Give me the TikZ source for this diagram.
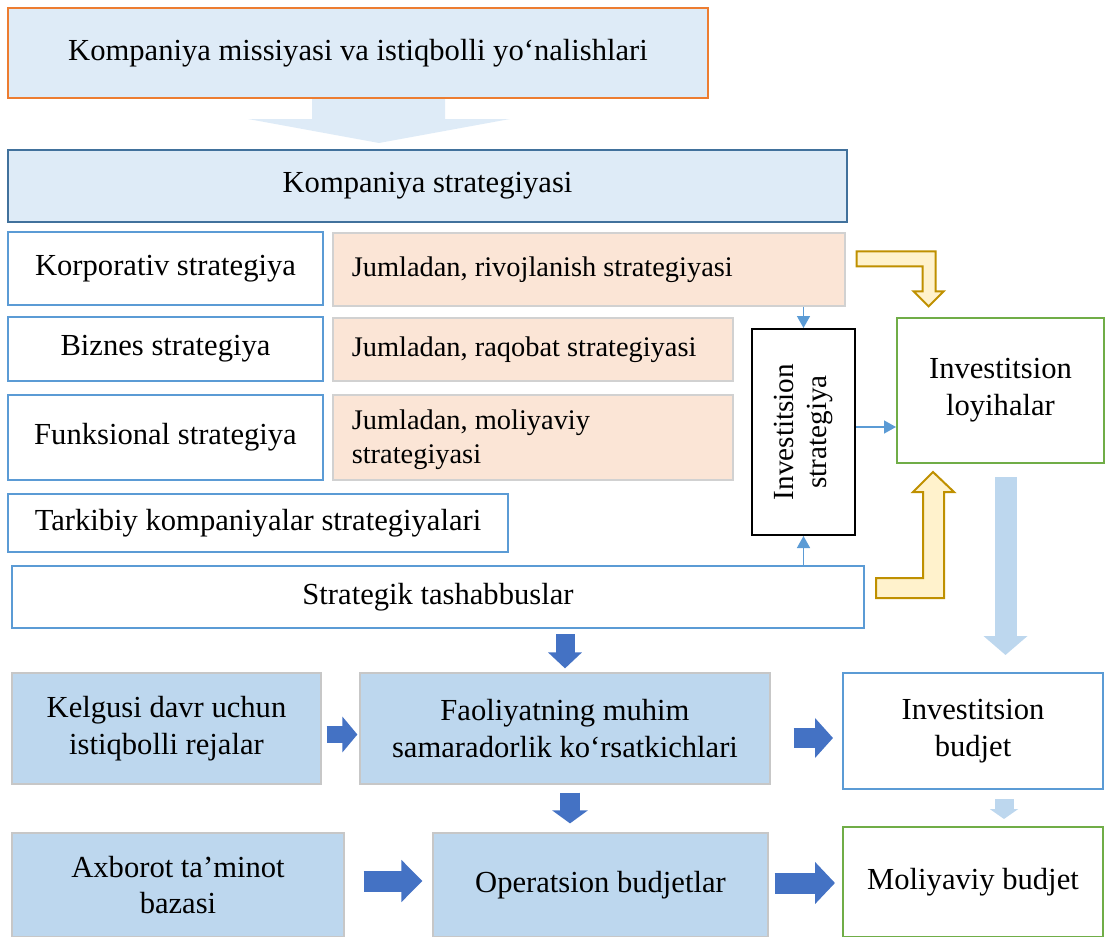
\documentclass[tikz,border=0pt]{standalone}
\usepackage{fontspec}
\setmainfont{Liberation Serif}
\usetikzlibrary{calc,arrows.meta}

\definecolor{palebl}{HTML}{DEEBF7}
\definecolor{lightbl}{HTML}{BDD7EE}
\definecolor{midbl}{HTML}{5B9BD5}
\definecolor{darkbl}{HTML}{41719C}
\definecolor{strongbl}{HTML}{4472C4}
\definecolor{orng}{HTML}{ED7D31}
\definecolor{peach}{HTML}{FBE5D6}
\definecolor{grn}{HTML}{70AD47}
\definecolor{goldfill}{HTML}{FFF2CC}
\definecolor{goldline}{HTML}{BF9000}

\tikzset{
  box/.style={inner sep=0pt, line width=1pt, fill=white, align=center},
  linebox/.style={box, draw=midbl},
  peachbox/.style={box, fill=peach, draw=black!18, line width=0.6pt},
  peachtext/.style={anchor=west, inner sep=0pt, align=left, font=\fontsize{14.2}{17}\selectfont},
  plan/.style={box, fill=lightbl, draw=black!22, line width=0.6pt},
  greenbox/.style={box, draw=grn},
  thinarr/.style={draw=midbl, line width=0.75pt, -{Triangle[width=6.5pt,length=6pt]}},
  goldarr/.style={fill=goldfill, draw=goldline, line width=1pt, line join=miter}
}

\begin{document}
\begin{tikzpicture}[x=0.5pt, y=-0.5pt, font=\fontsize{15.3}{18.4}\selectfont]
  \useasboundingbox (0,0) rectangle (1105,937);

  % top of the scheme
  \node[box, fill=palebl, draw=orng, minimum width=350pt, minimum height=45pt] (mis) at (358,53) {Kompaniya missiyasi va istiqbolli yo‘nalishlari};
  \fill[palebl] ($(mis.south)+(-46,0)$) -- ++(133,0) -- ++(0,20) -- ++(65,0) -- ++(-131,24) -- ++(-131,-24) -- ++(64,0) -- cycle;
  \node[box, fill=palebl, draw=darkbl, minimum width=419.5pt, minimum height=36pt] (kstr) at (427.5,186) {Kompaniya strategiyasi};

  % strategy levels
  \node[linebox, minimum width=157.5pt, minimum height=36.5pt] (korp) at (165.5,268.5) {Korporativ strategiya};
  \node[linebox, minimum width=157.5pt, minimum height=32pt] (biz) at (165.5,349) {Biznes strategiya};
  \node[linebox, minimum width=157.5pt, minimum height=42.5pt] (funk) at (165.5,437.5) {Funksional strategiya};
  \node[linebox, minimum width=250pt, minimum height=29pt] (tark) at (258,523) {Tarkibiy kompaniyalar strategiyalari};
  \node[linebox, minimum width=426pt, minimum height=31pt] (tash) at (438,597) {Strategik tashabbuslar};

  \node[peachbox, minimum width=256pt, minimum height=36.5pt] (jum1) at (589,269.5) {};
  \node[peachbox, minimum width=200pt, minimum height=31.5pt] (jum2) at (533,349.5) {};
  \node[peachbox, minimum width=200pt, minimum height=42.5pt] (jum3) at (533,437.5) {};
  \node[peachtext] (jum1t) at ($(jum1.west)+(19,0)$) {Jumladan, rivojlanish strategiyasi};
  \node[peachtext] (jum2t) at ($(jum2.west)+(19,0)$) {Jumladan, raqobat strategiyasi};
  \node[peachtext] (jum3t) at ($(jum3.west)+(19,2)$) {Jumladan, moliyaviy\\strategiyasi};

  % investment part
  \node[box, draw=black, minimum width=51.5pt, minimum height=103pt] (invs) at (803.5,432) {};
  \node[rotate=90, align=center, inner sep=0pt, font=\fontsize{14.6}{16.5}\selectfont] (invst) at (invs.center) {Investitsion\\strategiya};
  \node[greenbox, minimum width=103.5pt, minimum height=72.5pt] (loy) at (1000.5,390.5) {Investitsion\\loyihalar};

  \coordinate (is1) at ($(invs.east)+(0,-5)$);
  \draw[thinarr] (jum1.south -| invs.north) -- (invs.north);
  \draw[thinarr] (tash.north -| invs.south) -- (invs.south);
  \draw[thinarr] (is1) -- (is1 -| loy.west);

  \draw[goldarr] ($(jum1.north east)+(11,19)$) -- ++(79,0) -- ++(0,40) -- ++(8,0) -- ++(-15,15) -- ++(-15,-15) -- ++(9,0) -- ++(0,-25) -- ++(-66,0) -- cycle;
  \draw[goldarr] ($(tash.north east)+(11,13)$) -- ++(47,0) -- ++(0,-86) -- ++(-10,0) -- ++(20,-20) -- ++(21,20) -- ++(-10,0) -- ++(0,106) -- ++(-68,0) -- cycle;

  % plans and budgets
  \node[plan, minimum width=154.5pt, minimum height=55.5pt] (kel) at (166.5,728.5) {Kelgusi davr uchun\\istiqbolli rejalar};
  \node[plan, minimum width=205pt, minimum height=55.5pt] (faol) at (565,728.5) {Faoliyatning muhim\\samaradorlik ko‘rsatkichlari};
  \node[linebox, minimum width=130pt, minimum height=58pt] (ibud) at (973,731) {Investitsion\\budjet};
  \node[plan, minimum width=166pt, minimum height=52pt] (axb) at (178,885) {Axborot ta’minot\\bazasi};
  \node[plan, minimum width=167.5pt, minimum height=52pt] (oper) at (600.5,885) {Operatsion budjetlar};
  \node[greenbox, minimum width=130pt, minimum height=55pt] (mol) at (973,882) {Moliyaviy budjet};

  \coordinate (fs) at ($(faol.south)+(5,0)$);
  \coordinate (ke) at ($(kel.east)+(0,6)$);
  \coordinate (ae) at ($(axb.east)+(0,-4)$);
  \coordinate (fe) at ($(faol.east)+(0,9.5)$);
  \coordinate (oe) at ($(oper.east)+(0,-2)$);
  \coordinate (ls) at ($(loy.south)+(5,0)$);
  \coordinate (ibs) at ($(ibud.south)+(31,0)$);

  \draw[draw=strongbl, line width=9.5pt, -{Triangle[width=16.5pt,length=8pt]}, shorten <=2.5pt, shorten >=2pt] (tash.south -| faol.north) -- (faol.north);
  \draw[draw=strongbl, line width=10pt, -{Triangle[width=17.5pt,length=6.5pt]}, shorten <=4pt, shorten >=4.5pt] (fs) -- (fs |- oper.north);
  \draw[draw=strongbl, line width=8.5pt, -{Triangle[width=17.5pt,length=7.5pt]}, shorten <=2.5pt, shorten >=1pt] (ke) -- (ke -| faol.west);
  \draw[draw=strongbl, line width=10.5pt, -{Triangle[width=20.5pt,length=10.5pt]}, shorten <=9.5pt, shorten >=5pt] (ae) -- (ae -| oper.west);
  \draw[draw=strongbl, line width=10pt, -{Triangle[width=19.5pt,length=9pt]}, shorten <=11.5pt, shorten >=4.5pt] (fe) -- (fe -| ibud.west);
  \draw[draw=strongbl, line width=10.5pt, -{Triangle[width=20.5pt,length=10pt]}, shorten <=3pt, shorten >=3.5pt] (oe) -- (oe -| mol.west);

  \draw[draw=lightbl, line width=11pt, -{Triangle[width=21.5pt,length=9.5pt]}, shorten <=6.5pt, shorten >=8.5pt] (ls) -- (ls |- ibud.north);
  \draw[draw=lightbl, line width=9.5pt, -{Triangle[width=14pt,length=5pt]}, shorten <=4.5pt, shorten >=3.5pt] (ibs) -- (ibs |- mol.north);
\end{tikzpicture}
\end{document}
